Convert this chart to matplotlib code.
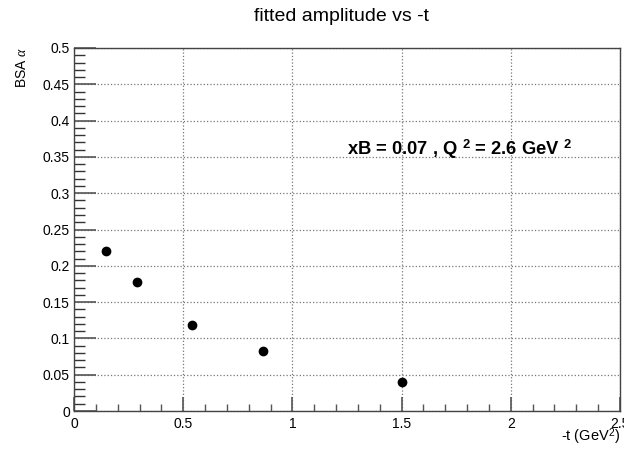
import matplotlib.pyplot as plt
from matplotlib.ticker import MultipleLocator

plt.rcParams['font.family'] = ['Liberation Sans', 'DejaVu Sans']
plt.rcParams['mathtext.fontset'] = 'custom'
plt.rcParams['mathtext.rm'] = 'Liberation Sans'
plt.rcParams['mathtext.it'] = 'Liberation Serif:italic'
plt.rcParams['mathtext.bf'] = 'Liberation Sans:bold'

t_vals = [0.147, 0.287, 0.542, 0.864, 1.50]
bsa_vals = [0.220, 0.178, 0.118, 0.083, 0.040]

fig = plt.figure(figsize=(6.24, 4.49), dpi=100)
ax = fig.add_axes([0.1186, 0.0846, 0.8750, 0.8085])

ax.plot(t_vals, bsa_vals, 'o', color='black', markersize=6)

ax.set_xlim(0, 2.5)
ax.set_ylim(0, 0.5)
ax.xaxis.set_major_locator(MultipleLocator(0.5))
ax.xaxis.set_minor_locator(MultipleLocator(0.1))
ax.yaxis.set_major_locator(MultipleLocator(0.05))
ax.yaxis.set_minor_locator(MultipleLocator(0.01))

def fmt(v, pos):
    return '%g' % round(v, 3)
ax.xaxis.set_major_formatter(plt.FuncFormatter(fmt))
ax.yaxis.set_major_formatter(plt.FuncFormatter(fmt))

ax.tick_params(axis='y', which='major', direction='in', length=16, width=1.2, color='#555555', labelsize=10, pad=3)
ax.tick_params(axis='y', which='minor', direction='in', length=8, width=1.0, color='#333333')
ax.tick_params(axis='x', which='major', direction='in', length=10, width=1.2, color='#555555', labelsize=10, pad=4)
ax.tick_params(axis='x', which='minor', direction='in', length=5, width=1.0, color='#555555')

for sp in ax.spines.values():
    sp.set_color('#444444')
    sp.set_linewidth(1.0)

ax.grid(True, which='major', linestyle=':', color='#777777', linewidth=0.9)

fig.text(0.548, 0.982, 'fitted amplitude vs -t', ha='center', va='top', fontsize=14)
fig.text(0.035, 0.895, r'BSA $\alpha$', rotation=90, ha='center', va='top', fontsize=10)
fig.text(0.994, 0.005, r'-t (GeV$^2$)', ha='right', va='bottom', fontsize=10.5)

ax.text(1.25, 0.36, r'xB = 0.07 , Q $^{\mathbf{2}}$ = 2.6 GeV $^{\mathbf{2}}$',
        fontsize=13.2, fontweight='bold', va='center', ha='left')

fig.savefig('out.png', dpi=100)
